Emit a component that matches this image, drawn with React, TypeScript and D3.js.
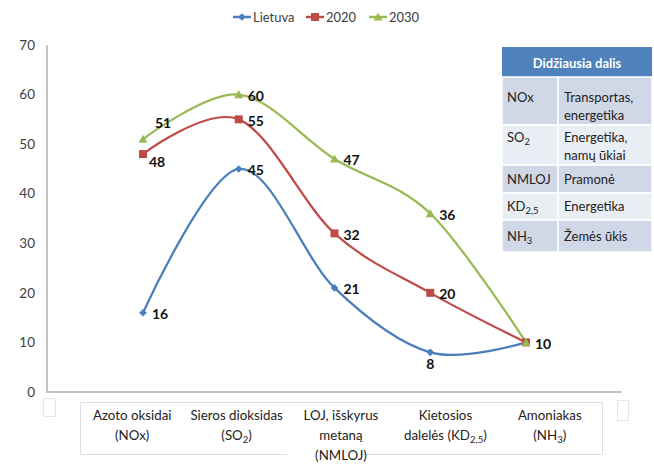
import React from "react";
import * as d3 from "d3";

const categories = ["NOx", "SO2", "NMLOJ", "KD2,5", "NH3"];
const categoryLabels = [
  ["Azoto oksidai", "(NOx)"],
  ["Sieros dioksidas", "(SO_{2})"],
  ["LOJ, išskyrus", "metaną", "(NMLOJ)"],
  ["Kietosios", "dalelės (KD_{2,5})"],
  ["Amoniakas", "(NH_{3})"],
];
const lietuva = [16, 45, 21, 8, 10];
const y2020 = [48, 55, 32, 20, 10];
const y2030 = [51, 60, 47, 36, 10];
const seriesNames = ["Lietuva", "2020", "2030"];
const yTicks = [0, 10, 20, 30, 40, 50, 60, 70];

const tableTitle = "Didžiausia dalis";
const tableKeys = ["NOx", "SO_{2}", "NMLOJ", "KD_{2,5}", "NH_{3}"];
const tableValues = [
  ["Transportas,", "energetika"],
  ["Energetika,", "namų ūkiai"],
  ["Pramonė"],
  ["Energetika"],
  ["Žemės ūkis"],
];

// label placement per point: r = right, b = below, br = below-right, ar = above-right, n = none
const lietuvaLabelPos = ["r", "r", "r", "b", "r"];
const y2020LabelPos = ["br", "r", "r", "r", "n"];
const y2030LabelPos = ["ar", "r", "r", "r", "n"];

const colors = ["#4a7ebb", "#be4b48", "#98b954"];
const FONT = "Lato, 'Open Sans', sans-serif";

function rich(s: string, subSize = "0.72em") {
  const parts = s.split(/_\{([^}]*)\}/);
  const out: any[] = [];
  parts.forEach((p, i) => {
    if (i % 2 === 0) {
      if (p) out.push(<tspan key={i} dy={i > 0 ? -3 : undefined}>{p}</tspan>);
    } else {
      out.push(
        <tspan key={i} fontSize={subSize} dy={3}>
          {p}
        </tspan>
      );
    }
  });
  return out;
}

function Marker({ kind, x, y, color }: { kind: number; x: number; y: number; color: string }) {
  if (kind === 0) {
    const s = 3.8;
    return <path d={`M${x},${y - s}L${x + s},${y}L${x},${y + s}L${x - s},${y}Z`} fill={color} />;
  }
  if (kind === 1) {
    return <rect x={x - 4} y={y - 4} width={8} height={8} fill={color} />;
  }
  const s = 4.5;
  return <path d={`M${x},${y - s}L${x + s},${y + s * 0.8}L${x - s},${y + s * 0.8}Z`} fill={color} />;
}

export default function App() {
  const W = 654;
  const H = 464;
  const x = d3.scalePoint<string>().domain(categories).range([143, 526]);
  const y = d3.scaleLinear().domain([0, 70]).range([392, 45]);
  const labelBand = d3.scaleBand<string>().domain(categories).range([80, 602]);

  const line = d3
    .line<number>()
    .x((_, i) => x(categories[i]) as number)
    .y((d) => y(d))
    .curve(d3.curveCardinal.tension(0));

  const allSeries = [lietuva, y2020, y2030];
  const allPos = [lietuvaLabelPos, y2020LabelPos, y2030LabelPos];

  const rowTops = [77, 125, 165, 193, 220, 252];
  const tx0 = 502, tx1 = 558, tx2 = 652;

  return (
    <svg width={W} height={H} style={{ display: "block", position: "absolute", left: 0, top: 0 }} fontFamily={FONT}>
      <rect width={W} height={H} fill="#fff" />

      {/* Legend */}
      {seriesNames.map((n, i) => {
        const lx = [233, 306, 369][i];
        return (
          <g key={n}>
            <line x1={lx} x2={lx + 18} y1={17} y2={17} stroke={colors[i]} strokeWidth={2.5} />
            <Marker kind={i} x={lx + 9} y={17} color={colors[i]} />
            <text x={lx + 20} y={17} dy="0.35em" fontSize={13} fill="#404040">
              {n}
            </text>
          </g>
        );
      })}

      {/* Axes */}
      <line x1={47} x2={47} y1={45} y2={392} stroke="#c4c4c4" strokeWidth={2} />
      <line x1={46} x2={622} y1={392} y2={392} stroke="#c4c4c4" strokeWidth={2} />
      {yTicks.map((t) => (
        <text key={t} x={35} y={y(t)} dy="0.35em" textAnchor="end" fontSize={13.5} fill="#404040">
          {t}
        </text>
      ))}

      {/* small artifact boxes */}
      <rect x={43.5} y={398.5} width={12} height={18} fill="none" stroke="#e6e6e6" />
      <rect x={617.5} y={400.5} width={11} height={20} fill="none" stroke="#e6e6e6" />

      {/* category label box */}
      <g stroke="#dedede" strokeWidth={1}>
        <line x1={80.5} x2={602.5} y1={402.5} y2={402.5} />
        <line x1={80.5} x2={80.5} y1={402.5} y2={454.5} />
        <line x1={602.5} x2={602.5} y1={402.5} y2={454.5} />
        <line x1={80.5} x2={287} y1={454.5} y2={454.5} />
        <line x1={360} x2={602.5} y1={454.5} y2={454.5} />
      </g>
      {categoryLabels.map((lines, i) => {
        const cx = (labelBand(categories[i]) as number) + labelBand.bandwidth() / 2;
        return lines.map((ln, j) => (
          <text key={i + "-" + j} x={cx} y={415 + j * 20 + 4.5} textAnchor="middle" fontSize={13.3} fill="#222">
            {rich(ln)}
          </text>
        ));
      })}

      {/* Lines */}
      {allSeries.map((s, si) => (
        <path key={si} d={line(s) as string} fill="none" stroke={colors[si]} strokeWidth={2.25} />
      ))}
      {allSeries.map((s, si) =>
        s.map((v, i) => (
          <Marker key={si + "-" + i} kind={si} x={x(categories[i]) as number} y={y(v)} color={colors[si]} />
        ))
      )}

      {/* Data labels */}
      {allSeries.map((s, si) =>
        s.map((v, i) => {
          const p = allPos[si][i];
          if (p === "n") return null;
          const px = x(categories[i]) as number;
          const py = y(v);
          let lx = px + 9, ly = py + 1.5, anchor = "start";
          if (p === "b") { lx = px; ly = py + 12; anchor = "middle"; }
          if (p === "br") { lx = px + 6; ly = py + 8; }
          if (p === "ar") { lx = px + 12; ly = py - 16; }
          return (
            <text key={si + "-" + i} x={lx} y={ly} dy="0.35em" textAnchor={anchor} fontSize={14} fontWeight="bold" fill="#111">
              {v}
            </text>
          );
        })
      )}

      {/* Table */}
      <rect x={tx0} y={47} width={tx2 - tx0} height={30} fill="#4f81bd" />
      <text x={(tx0 + tx2) / 2} y={63} dy="0.35em" textAnchor="middle" fontSize={13} fontWeight="bold" fill="#fff">
        {tableTitle}
      </text>
      {tableKeys.map((k, i) => {
        const top = rowTops[i];
        const bot = rowTops[i + 1];
        const fill = i % 2 === 0 ? "#d0d8e8" : "#e9edf4";
        const n = tableValues[i].length;
        const firstY = n > 1 ? bot - 10 - 18 * (n - 1) : (top + bot) / 2;
        return (
          <g key={k}>
            <rect x={tx0} y={top} width={tx1 - tx0} height={bot - top} fill={fill} stroke="#fff" strokeWidth={1.5} />
            <rect x={tx1} y={top} width={tx2 - tx1} height={bot - top} fill={fill} stroke="#fff" strokeWidth={1.5} />
            <text x={tx0 + 5} y={firstY + 4.5} fontSize={13} fill="#222">
              {rich(k)}
            </text>
            {tableValues[i].map((v, j) => (
              <text key={j} x={tx1 + 6} y={firstY + j * 18 + 4.5} fontSize={13} fill="#222">
                {v}
              </text>
            ))}
          </g>
        );
      })}
    </svg>
  );
}
